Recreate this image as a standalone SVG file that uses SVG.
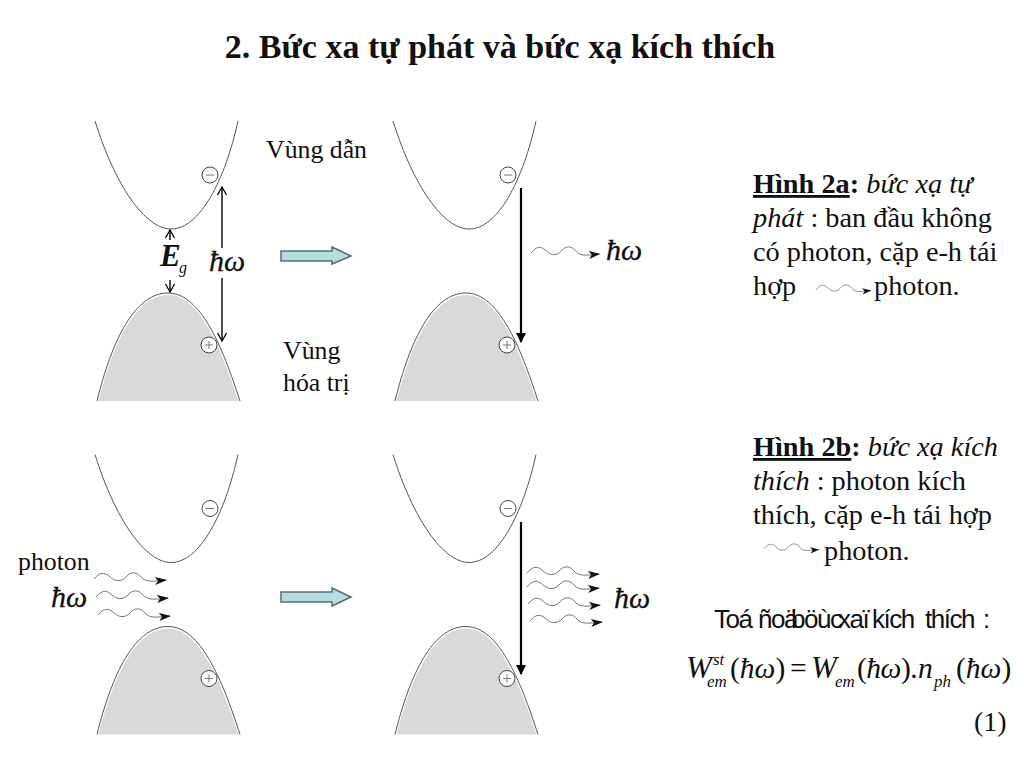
<svg xmlns="http://www.w3.org/2000/svg" xmlns:xlink="http://www.w3.org/1999/xlink" width="1024" height="768" viewBox="0 0 1024 768">
<style>
text{font-family:"Liberation Serif","Times New Roman",serif;fill:#111}
.t{font-size:28.300px}
.i{font-style:italic}
.b{font-weight:bold}
.lab{font-size:25.800px}
.h{font-size:30px;font-style:italic;stroke:#111;stroke-width:.3}
.f{font-size:31px;font-style:italic}
.p{font-size:29.500px}
.s{font-size:17px;font-style:italic}
.band{fill:none;stroke:#555;stroke-width:1}
.val{fill:#d9d9d9}
.c{fill:#fff;stroke:#444;stroke-width:1}
.sign{stroke:#777;stroke-width:1;fill:none}
.wave{fill:none;stroke:#777;stroke-width:1}
.ar{stroke:#000;stroke-width:1.4;fill:none}
.tr{stroke:#000;stroke-width:2.2;fill:none}
.block{fill:#b7dde0;stroke:#4f6f78;stroke-width:1.5}
</style>
<defs>
<marker id="open" markerWidth="12" markerHeight="12" refX="9" refY="5" orient="auto" markerUnits="userSpaceOnUse"><path d="M1 0.5L9 5L1 9.5" fill="none" stroke="#000" stroke-width="1.3"/></marker>
<marker id="solid" markerWidth="12" markerHeight="12" refX="9" refY="5" orient="auto" markerUnits="userSpaceOnUse"><path d="M0 0L10 5L0 10Z" fill="#000"/></marker>
<marker id="head" markerWidth="14" markerHeight="10" refX="11" refY="4" orient="auto" markerUnits="userSpaceOnUse"><path d="M0 0L12 4L0 8L3 4Z" fill="#111"/></marker>
<g id="bands">
<path class="val" d="M98.500 401C113.500 342 136 295 168 295C199 295 220 346 238.500 401Z"/>
<path class="band" d="M97 401C112 340 135 293 168 293C200 293 222 345 240 401"/>
<path class="band" d="M95 121C115 185 145 229 171 229C200 229 225 180 238 121"/>
<circle class="c" cx="210" cy="175" r="8"/><path class="sign" d="M206 175H214"/>
<circle class="c" cx="209" cy="345" r="8"/><path class="sign" d="M205 345H213M209 341V349"/>
</g>
<path id="wave" class="wave" marker-end="url(#head)" d="M0 6C6 -1 10 -1 15 3C21 9 27 9 32 4C37 -2 43 -1 47 4C52 10 60 8 72 7"/>
</defs>

<text id="title" x="500" y="58" text-anchor="middle" class="b" font-size="34">2. Bức xa tự phát và bức xạ kích thích</text>

<g id="panel-2a-before">
<use href="#bands"/>
<text class="lab" x="266" y="158">Vùng dẫn</text>
<text class="lab" x="283" y="359">Vùng</text>
<text class="lab" x="283" y="391">hóa trị</text>
<text class="f" x="160" y="266" font-size="27" font-weight="bold">E</text><text class="s" x="179" y="273" style="font-size:16px">g</text>
<text class="h" x="209" y="271">ħω</text>
</g>
<g id="panel-2a-after">
<use href="#bands" x="298"/>
<use href="#wave" transform="translate(531 247) scale(.95 1)"/>
<text class="h" x="606" y="260">ħω</text>
</g>
<g id="panel-2b-before">
<use href="#bands" y="333.500"/>
<text class="lab" x="18" y="570">photon</text>
<text class="h" x="51" y="607">ħω</text>
<use href="#wave" x="94" y="573"/>
<use href="#wave" x="96" y="591"/>
<use href="#wave" x="98" y="609"/>
</g>
<g id="panel-2b-after">
<use href="#bands" x="298" y="333.500"/>
<use href="#wave" x="527" y="567"/>
<use href="#wave" x="527" y="581"/>
<use href="#wave" x="528" y="598"/>
<use href="#wave" x="530" y="615"/>
<text class="h" x="614" y="608">ħω</text>
</g>
<g id="connectors">
<path class="ar" marker-end="url(#open)" d="M170 240V230"/>
<path class="ar" marker-end="url(#open)" d="M170 280V292"/>
<path class="ar" marker-end="url(#open)" d="M222 248V187"/>
<path class="ar" marker-end="url(#open)" d="M222 278V341"/>
<path class="tr" marker-end="url(#solid)" d="M521 188V342"/>
<path class="tr" marker-end="url(#solid)" d="M521 522V674"/>
<path class="block" d="M281 251H332V247L351 256L332 264V261H281Z"/>
<path class="block" d="M281 592H332V588L351 597L332 606V602H281Z"/>
</g>
<g id="caption-2a">
<text class="t" x="753" y="193"><tspan class="b" text-decoration="underline">Hình 2a</tspan><tspan class="b">:</tspan> <tspan class="i">bức xạ tự</tspan></text>
<text class="t" x="753" y="227"><tspan class="i">phát</tspan> : ban đầu không</text>
<text class="t" x="753" y="261">có photon, cặp e-h tái</text>
<text class="t" x="753" y="295">hợp</text>
<text class="t" x="874" y="295">photon.</text>
<use href="#wave" transform="translate(816 285) scale(.76 .8)"/>
</g>
<g id="caption-2b">
<text class="t" x="753" y="456"><tspan class="b" text-decoration="underline">Hình 2b</tspan><tspan class="b">:</tspan> <tspan class="i">bức xạ kích</tspan></text>
<text class="t" x="753" y="490"><tspan class="i">thích</tspan> : photon kích</text>
<text class="t" x="753" y="524">thích, cặp e-h tái hợp</text>
<text class="t" x="824" y="560">photon.</text>
<use href="#wave" transform="translate(764 544) scale(.76 .8)"/>
</g>
<g id="formula">
<text x="714" y="628" font-size="26" style="font-family:'Liberation Sans',Arial,sans-serif" letter-spacing="-1.500">Toá<tspan x="758">ñoä</tspan><tspan x="791">böùc</tspan><tspan x="838">xaï</tspan><tspan x="872">kích</tspan><tspan x="925">thích</tspan><tspan x="983">:</tspan></text>
<text class="f" x="686" y="678">W</text><text class="s" x="713" y="665">st</text><text class="s" x="707" y="687">em</text>
<text class="p" x="730" y="678">(<tspan font-style="italic">ħω</tspan>)</text>
<text class="p" x="790" y="678">=</text>
<text class="f" x="811" y="678">W</text><text class="s" x="835" y="687">em</text>
<text class="p" x="857" y="678" letter-spacing="-.5">(<tspan font-style="italic">ħω</tspan>).</text>
<text class="p i" x="918" y="678">n</text>
<text class="s" x="934" y="687">ph</text>
<text class="p" x="956" y="678">(<tspan font-style="italic">ħω</tspan>)</text>
<text x="974" y="731" font-size="28">(1)</text>
</g>
</svg>
